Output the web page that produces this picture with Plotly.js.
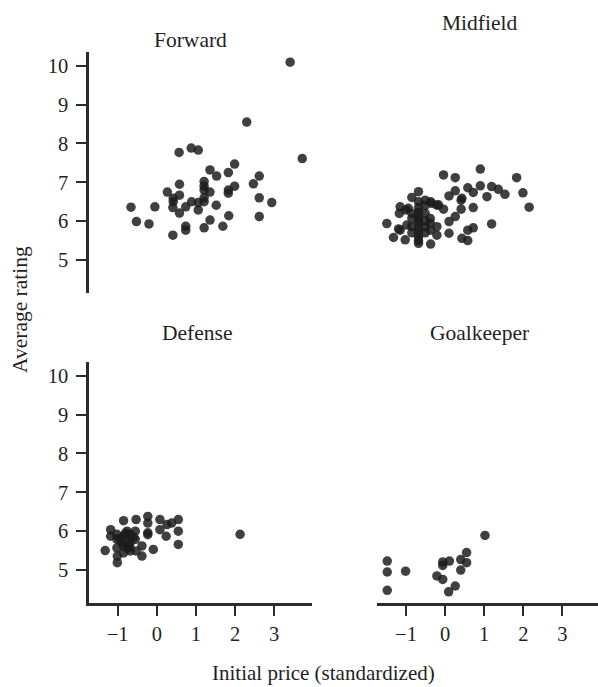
<!DOCTYPE html>
<html>
<head>
<meta charset="utf-8">
<script src="https://cdn.plot.ly/plotly-3.0.1.min.js"></script>
<style>
  html, body { margin: 0; padding: 0; background: #ffffff; }
  #chart { width: 598px; height: 687px; }
</style>
</head>
<body>
<div id="chart"></div>
<script>
// Initial price (standardized) vs. average rating, by position
const positions = ["Forward", "Midfield", "Defense", "Goalkeeper"];

const forwardPrice = [3.41, 2.30, 3.72, 0.57, 0.88, 1.06, 1.36, 1.53, 1.99, 1.83, 2.62, 2.47,
  1.99, 1.83, 1.83, 1.21, 1.21, 1.21, 1.36, 0.58, 0.27, 0.58, 0.42, 0.42, 0.89, 1.06, 1.21,
  1.21, 0.74, 0.41, 1.52, 1.06, 0.58, -0.05, -0.66, -0.52, -0.20, 0.41, 0.74, 0.74, 1.21,
  1.36, 1.84, 1.69, 2.62, 2.62, 2.94];
const forwardRating = [10.09, 8.55, 7.61, 7.77, 7.88, 7.83, 7.32, 7.16, 7.47, 7.25, 7.16, 6.96,
  6.90, 6.80, 6.72, 7.02, 6.90, 6.80, 6.75, 6.95, 6.75, 6.67, 6.59, 6.50, 6.50, 6.48, 6.60,
  6.50, 6.37, 6.35, 6.41, 6.29, 6.21, 6.37, 6.36, 5.99, 5.93, 5.64, 5.87, 5.77, 5.83,
  6.03, 6.14, 5.87, 6.12, 6.60, 6.48];

const midfieldPrice = [0.90, -0.04, 0.26, 1.83, 0.26, 0.58, 0.90, 1.19, 1.36, 1.53, 1.99, 2.15,
  0.10, 0.43, 0.72, 1.07, 0.41, 0.41, 0.72, 0.26, 0.10, 0.10, 0.43, 0.58, 0.58, 0.72, 1.19,
  -0.04, -0.21, -0.21, -0.37, -0.37, -0.68, -0.85, -1.15, -1.17, -1.49, -1.32, -1.19, -1.02,
  -0.98, -1.00, -0.94, -0.68, -0.51, -0.37, -0.34, -0.21, -0.17, -0.68, -0.68, -0.68, -0.68,
  -0.68, -0.68, -0.68, -0.68, -0.68, -0.68, -0.51, -0.38, -0.51, -0.85, -0.85, -0.85, -0.51,
  -1.15, -0.85, -0.51, -0.51, -0.38];
const midfieldRating = [7.34, 7.19, 7.12, 7.12, 6.78, 6.86, 6.91, 6.89, 6.82, 6.69, 6.73, 6.36,
  6.65, 6.59, 6.74, 6.63, 6.54, 6.31, 6.35, 6.12, 5.99, 5.69, 5.56, 5.50, 5.77, 5.83, 5.93,
  6.31, 5.86, 5.64, 5.41, 5.77, 6.76, 6.61, 6.37, 6.20, 5.94, 5.58, 5.80, 5.52,
  5.90, 6.29, 6.33, 6.50, 6.54, 6.50, 6.46, 6.41, 6.42, 6.23, 6.03, 5.82, 5.60,
  5.43, 5.50, 5.70, 5.95, 6.12, 6.35, 6.20, 6.07, 5.86, 6.07, 5.86, 6.20, 6.40,
  5.77, 5.70, 5.70, 6.00, 5.95];

const defensePrice = [-1.32, -1.18, -1.18, -0.85, -0.53, -0.23, -0.23, 0.08, 0.08, 0.26, 0.38,
  0.55, 0.55, 0.55, 0.24, -0.09, -0.38, -0.53, -0.68, -1.01, -1.01, -0.23, -0.23, -0.38,
  -0.55, -0.55, -1.02, -1.02, -1.02, -0.68, -0.68, -0.85, -0.85, -0.85, -0.76, -0.76, -0.76,
  -0.90, -0.60, -0.95, -0.80, -0.70, 2.13];
const defenseRating = [5.50, 6.04, 5.87, 6.27, 6.30, 6.38, 6.21, 6.30, 6.04, 6.17, 6.21,
  6.30, 6.00, 5.66, 5.87, 5.53, 5.36, 5.49, 5.49, 5.19, 5.36, 5.96, 5.91, 5.62,
  6.00, 5.79, 5.92, 5.79, 5.57, 5.92, 5.70, 5.87, 5.62, 5.44, 6.00, 5.75, 5.55,
  5.70, 5.85, 5.80, 5.95, 5.60, 5.92];

const keeperPrice = [1.02, -1.48, -1.48, -1.48, -1.01, -0.21, -0.06, -0.06, -0.06, 0.11,
  0.40, 0.55, 0.55, 0.40, 0.26, 0.09];
const keeperRating = [5.89, 5.23, 4.95, 4.48, 4.97, 4.85, 4.76, 5.12, 5.21, 5.23,
  5.27, 5.45, 5.19, 5.00, 4.59, 4.44];

const xTicks = [-1, 0, 1, 2, 3];
const yTicks = [5, 6, 7, 8, 9, 10];

// ---- page geometry (pixels) ----
const W = 598, H = 687;
const px = v => v / W;           // horizontal pixel -> paper
const py = v => 1 - v / H;       // vertical pixel (from top) -> paper

const ink = "#1f1f1f";
const fontFamily = "'Liberation Serif', 'Times New Roman', Times, serif";
const markerStyle = { size: 9.5, color: "rgba(28,28,28,0.84)", line: { width: 0 } };

function panel(x, y, xa, ya) {
  return {
    type: "scatter", mode: "markers", x: x, y: y,
    xaxis: xa, yaxis: ya, marker: markerStyle, hoverinfo: "x+y",
    cliponaxis: false
  };
}

const traces = [
  panel(forwardPrice, forwardRating, "x", "y"),
  panel(midfieldPrice, midfieldRating, "x2", "y2"),
  panel(defensePrice, defenseRating, "x3", "y3"),
  panel(keeperPrice, keeperRating, "x4", "y4")
];

const leftX = [px(89), px(312)];
const rightX = [px(377.3), 1];
const topY = [py(293.1), py(52.1)];
const botY = [py(603.1), py(362.1)];
const yRange = [4.15, 10.35];
const xRangeL = [-1.734, 3.969];
const xRangeR = [-1.734, 3.91];

const tickFont = { family: fontFamily, size: 20.5, color: ink };

function shownX(domain, range, anchor) {
  return {
    domain: domain, range: range, anchor: anchor,
    showline: true, linecolor: "#2b2b2b", linewidth: 2.6,
    ticks: "outside", ticklen: 10, tickwidth: 2, tickcolor: "#2b2b2b",
    tickmode: "array", tickvals: xTicks, tickfont: tickFont,
    ticklabelstandoff: 1,
    showgrid: false, zeroline: false, fixedrange: true
  };
}
function shownY(domain, anchor) {
  return {
    domain: domain, range: yRange, anchor: anchor,
    showline: true, linecolor: "#2b2b2b", linewidth: 2.6,
    ticks: "outside", ticklen: 10, tickwidth: 2, tickcolor: "#2b2b2b",
    tickmode: "array", tickvals: yTicks, tickfont: tickFont,
    ticklabelstandoff: 4,
    showgrid: false, zeroline: false, fixedrange: true
  };
}
function hiddenAxis(domain, range, anchor) {
  return { domain: domain, range: range, anchor: anchor, visible: false, fixedrange: true };
}

const titleFont = { family: fontFamily, size: 21.5, color: ink };
function label(text, x, y, extra) {
  return Object.assign({
    text: text, xref: "paper", yref: "paper", x: px(x), y: py(y),
    xanchor: "center", yanchor: "middle", showarrow: false, font: titleFont
  }, extra || {});
}

const layout = {
  width: W, height: H,
  margin: { l: 0, r: 0, t: 0, b: 0 },
  paper_bgcolor: "#ffffff", plot_bgcolor: "#ffffff",
  showlegend: false,
  font: { family: fontFamily, color: ink },
  xaxis: hiddenAxis(leftX, xRangeL, "y"),
  yaxis: shownY(topY, "x"),
  xaxis2: hiddenAxis(rightX, xRangeR, "y2"),
  yaxis2: hiddenAxis(topY, yRange, "x2"),
  xaxis3: shownX(leftX, xRangeL, "y3"),
  yaxis3: shownY(botY, "x3"),
  xaxis4: shownX(rightX, xRangeR, "y4"),
  yaxis4: hiddenAxis(botY, yRange, "x4"),
  annotations: [
    label(positions[0], 190, 40),
    label(positions[1], 479, 23),
    label(positions[2], 197, 333),
    label(positions[3], 479, 333),
    label("Initial price (standardized)", 323, 673, { font: Object.assign({}, titleFont, { size: 21 }) }),
    label("Average rating", 20, 310, { textangle: -90 })
  ]
};

Plotly.newPlot("chart", traces, layout, { displayModeBar: false, staticPlot: true });
</script>
</body>
</html>
